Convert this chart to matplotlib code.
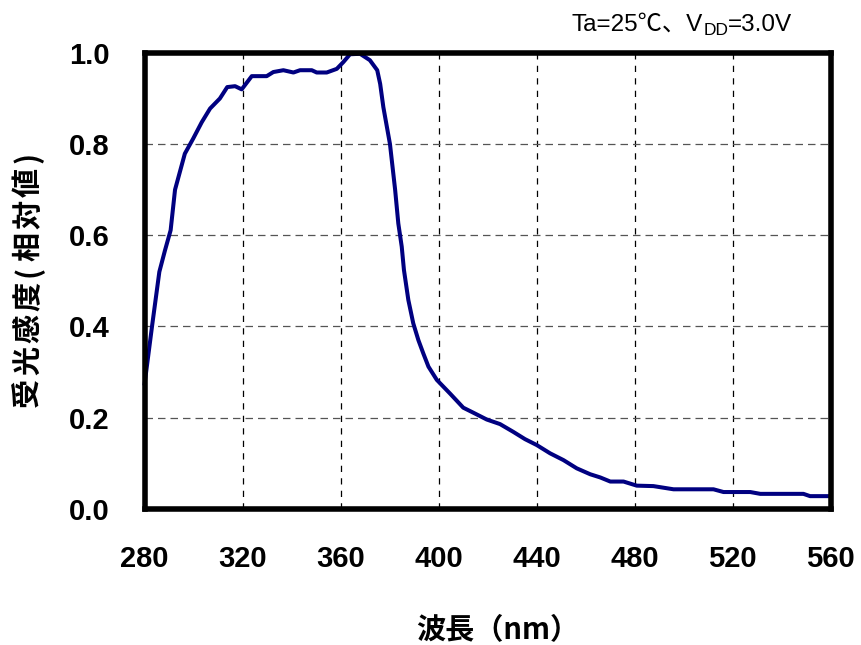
import matplotlib
matplotlib.use("Agg")
import matplotlib.pyplot as plt

# spectral response
wavelength = [280, 283, 286, 288.3, 290.6, 292.4, 296.4, 299.8, 303.3, 306.7,
              310.7, 313.7, 316.9, 319.6, 323.7, 329.8, 332.5, 336.6, 340.7, 343.4,
              348.2, 350.2, 354.3, 358.4, 361.1, 363.8, 367.9, 371.9, 374.9, 376.1,
              377.4, 380.1, 382.2, 383.5, 384.9, 385.8, 387.6, 389.6, 391.7, 393.7,
              395.8, 399.2, 404.6, 410.0, 414.1, 419.6, 425.0, 430.4, 435.2, 440.0,
              445.4, 450.9, 456.3, 461.8, 465.9, 470.0, 475.4, 480.8, 487.6, 495.8,
              512.1, 516.2, 527.1, 531.2, 548.8, 551.5, 560]
response = [0.275, 0.40, 0.52, 0.567, 0.611, 0.70, 0.779, 0.812, 0.848, 0.878,
            0.900, 0.925, 0.927, 0.920, 0.949, 0.949, 0.958, 0.962, 0.957, 0.962,
            0.962, 0.957, 0.957, 0.965, 0.980, 0.997, 0.998, 0.984, 0.962, 0.932,
            0.881, 0.800, 0.700, 0.626, 0.575, 0.524, 0.458, 0.407, 0.370, 0.341,
            0.312, 0.283, 0.253, 0.222, 0.211, 0.196, 0.186, 0.169, 0.153, 0.140,
            0.122, 0.107, 0.089, 0.076, 0.069, 0.060, 0.060, 0.051, 0.050, 0.043,
            0.043, 0.037, 0.037, 0.033, 0.033, 0.028, 0.028]
xticks = [280, 320, 360, 400, 440, 480, 520, 560]
yticks = [0.0, 0.2, 0.4, 0.6, 0.8, 1.0]
ylabel = "受光感度(相対値)"

FAM = ["Liberation Sans", "Noto Sans CJK JP", "DejaVu Sans"]
CJK = ["Noto Sans CJK JP", "DejaVu Sans"]
plt.rcParams["font.family"] = FAM

fig = plt.figure(figsize=(8.61, 6.45), dpi=100)
ax = fig.add_axes([0.168, 0.211, 0.797, 0.707])

for x in xticks[1:-1]:
    ax.axvline(x, color="black", lw=0.9, ls=(0, (5, 5)), zorder=1)
for y in yticks[1:-1]:
    ax.axhline(y, color="#555555", lw=0.9, ls=(0, (6, 4)), zorder=1)

ax.plot(wavelength, response, color="#000080", lw=2.9, zorder=3, clip_on=False,
        solid_joinstyle="round")

ax.set_xlim(280, 560)
ax.set_ylim(0, 1.0)
ax.set_xticks(xticks)
ax.set_yticks(yticks)
ax.set_xticklabels([str(v) for v in xticks])
ax.set_yticklabels([f"{v:.1f}" for v in yticks])
ax.tick_params(length=0, labelsize=21)
ax.tick_params(axis="x", pad=26)
ax.tick_params(axis="y", pad=25)
for lab in ax.get_xticklabels() + ax.get_yticklabels():
    lab.set_fontweight("bold")
for sp in ax.spines.values():
    sp.set_linewidth(4)
    sp.set_zorder(4)

ax.set_xlabel("波長（nm）", fontsize=21, fontweight="bold", family=CJK, labelpad=30)
ax.xaxis.label.set_x(0.515)

# y label set character by character: the original has wide spacing, narrow parens
ypos = 408
for ch in ylabel:
    step = 18 if ch in "()" else 32
    fig.text(28 / 861, (645 - ypos + step / 2) / 645, ch, fontsize=21,
             fontweight="bold", family=CJK, rotation=90, ha="center", va="center")
    ypos -= step

# condition note, built piece by piece so the subscript keeps the same font
fig.canvas.draw()
r = fig.canvas.get_renderer()
xpos, base = 572, 645 - 31
for txt, size, dy in [("Ta=25℃、V", 17.5, 0), ("DD", 12.5, -4), ("=3.0V", 17.5, 0)]:
    t = fig.text(xpos / 861, (base + dy) / 645, txt, fontsize=size, family=FAM,
                 ha="left", va="baseline")
    xpos = t.get_window_extent(r).x1

fig.savefig("out.png", dpi=100)
